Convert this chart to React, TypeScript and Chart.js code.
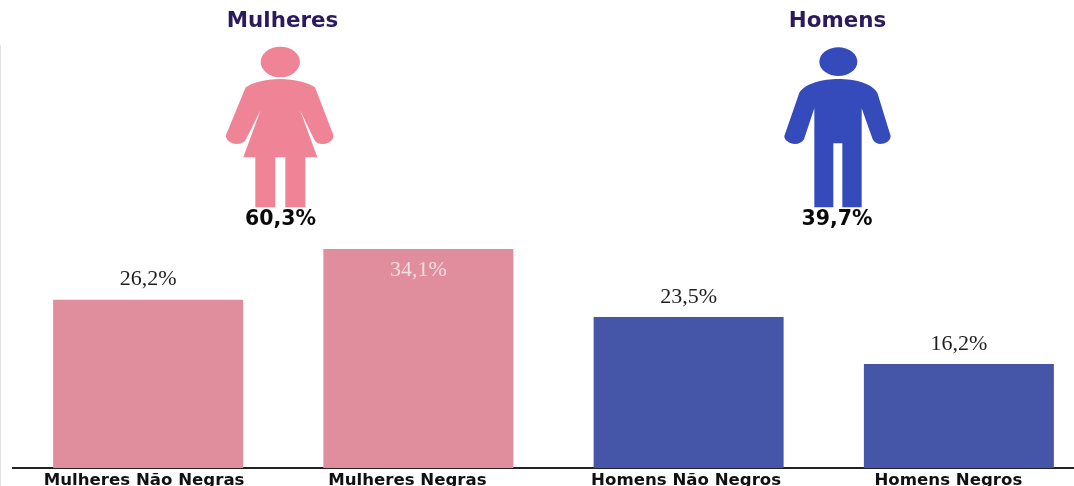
import React, { useEffect, useRef } from "react";
import { Chart, registerables } from "chart.js";

Chart.register(...registerables);

const categories = ["Mulheres Não Negras", "Mulheres Negras", "Homens Não Negros", "Homens Negros"];
const values = [26.2, 34.1, 23.5, 16.2];
const barColors = ["#E08E9E", "#E08E9E", "#4556A8", "#4556A8"];
const labelColors = ["#1E1E1E", "#EFDDE0", "#1E1E1E", "#1E1E1E"];
const labelInside = [false, true, false, false];
const categoryShift = [-4, -11, -2.5, -10.5];
const groupTitles = ["Mulheres", "Homens"];
const groupShares = ["60,3%", "39,7%"];

const fmt = (v: number) => v.toFixed(1).replace(".", ",") + "%";

const valueLabels = {
  id: "valueLabels",
  afterDatasetsDraw(chart: any) {
    const { ctx } = chart;
    const meta = chart.getDatasetMeta(0);
    const xScale = chart.scales.x;
    ctx.save();
    ctx.font = '22px "Liberation Serif"';
    ctx.textAlign = "center";
    ctx.textBaseline = "middle";
    meta.data.forEach((bar: any, i: number) => {
      ctx.fillStyle = labelColors[i];
      ctx.fillText(fmt(values[i]), bar.x, bar.y + (labelInside[i] ? 21 : -20));
    });
    ctx.font = 'bold 16.6px "DejaVu Sans"';
    ctx.textBaseline = "alphabetic";
    ctx.fillStyle = "#111111";
    categories.forEach((name, i) => {
      ctx.fillText(name, xScale.getPixelForValue(i) + categoryShift[i], 485);
    });
    ctx.restore();
  },
};

const headStyle: React.CSSProperties = {
  position: "absolute",
  transform: "translateX(-50%)",
  fontFamily: '"DejaVu Sans"',
  fontWeight: 700,
  whiteSpace: "nowrap",
  lineHeight: 1,
};

function Woman() {
  return (
    <svg viewBox="0 0 540 720" width={180} height={240} style={{ position: "absolute", left: 200, top: 0 }}>
      <g fill="#F08497">
        <ellipse cx="241" cy="186" rx="59" ry="46" />
        <path d="M240 237 C285 237 325 248 345 262 L400 405 C402 425 380 433 365 432 C352 431 346 426 342 418 L300 330 L352 472 L316 472 L316 622 L256 622 L256 472 L226 472 L226 622 L166 622 L166 472 L130 472 L182 330 L138 418 C133 428 122 432 110 432 C92 431 76 420 78 405 L137 262 C157 248 195 237 240 237 Z" />
      </g>
    </svg>
  );
}

function Man() {
  return (
    <svg viewBox="0 0 540 720" width={180} height={240} style={{ position: "absolute", left: 760, top: 0 }}>
      <g fill="#354ABB">
        <ellipse cx="235" cy="185" rx="57" ry="43" />
        <path d="M235 237 C285 237 335 250 352 278 L392 408 C392 424 375 432 360 432 C350 431 342 426 338 418 L305 325 L305 622 L247 622 L247 430 L220 430 L220 622 L163 622 L163 325 L132 418 C126 428 116 432 105 432 C88 431 72 420 73 408 L118 278 C135 250 190 237 235 237 Z" />
      </g>
    </svg>
  );
}

export default function App() {
  const ref = useRef<HTMLCanvasElement>(null);
  useEffect(() => {
    const chart = new Chart(ref.current!, {
      type: "bar",
      data: {
        labels: categories,
        datasets: [{ data: values, backgroundColor: barColors, barPercentage: 0.703, categoryPercentage: 1 }],
      },
      options: {
        animation: false,
        responsive: false,
        layout: { padding: { left: 13, right: 0, top: 211, bottom: 0 } },
        plugins: { legend: { display: false }, tooltip: { enabled: false } },
        scales: {
          x: {
            afterFit(scale: any) {
              scale.height = 18;
            },
            grid: { display: false, drawTicks: false },
            border: { color: "#222222", width: 2 },
            ticks: { display: false },
          },
          y: { display: false, min: 0, max: 40 },
        },
      },
      plugins: [valueLabels],
    } as any);
    return () => chart.destroy();
  }, []);

  return (
    <div style={{ position: "fixed", left: 0, top: 0, width: 1074, height: 486, overflow: "hidden", background: "#fff", filter: "blur(0.35px)" }}>
      <div style={{ position: "absolute", left: 0, top: 45, width: 1, height: 441, background: "#E2E2E2" }} />
      <canvas ref={ref} width={1094} height={486} style={{ position: "absolute", left: 0, top: 0 }} />
      <Woman />
      <Man />
      <div style={{ ...headStyle, left: 282.5, top: 9, fontSize: 21.4, color: "#2B1A5E" }}>{groupTitles[0]}</div>
      <div style={{ ...headStyle, left: 837.5, top: 9, fontSize: 21.4, color: "#2B1A5E" }}>{groupTitles[1]}</div>
      <div style={{ ...headStyle, left: 280.5, top: 208, fontSize: 20.5, color: "#0A0A0A" }}>{groupShares[0]}</div>
      <div style={{ ...headStyle, left: 837, top: 208, fontSize: 20.5, color: "#0A0A0A" }}>{groupShares[1]}</div>
    </div>
  );
}
